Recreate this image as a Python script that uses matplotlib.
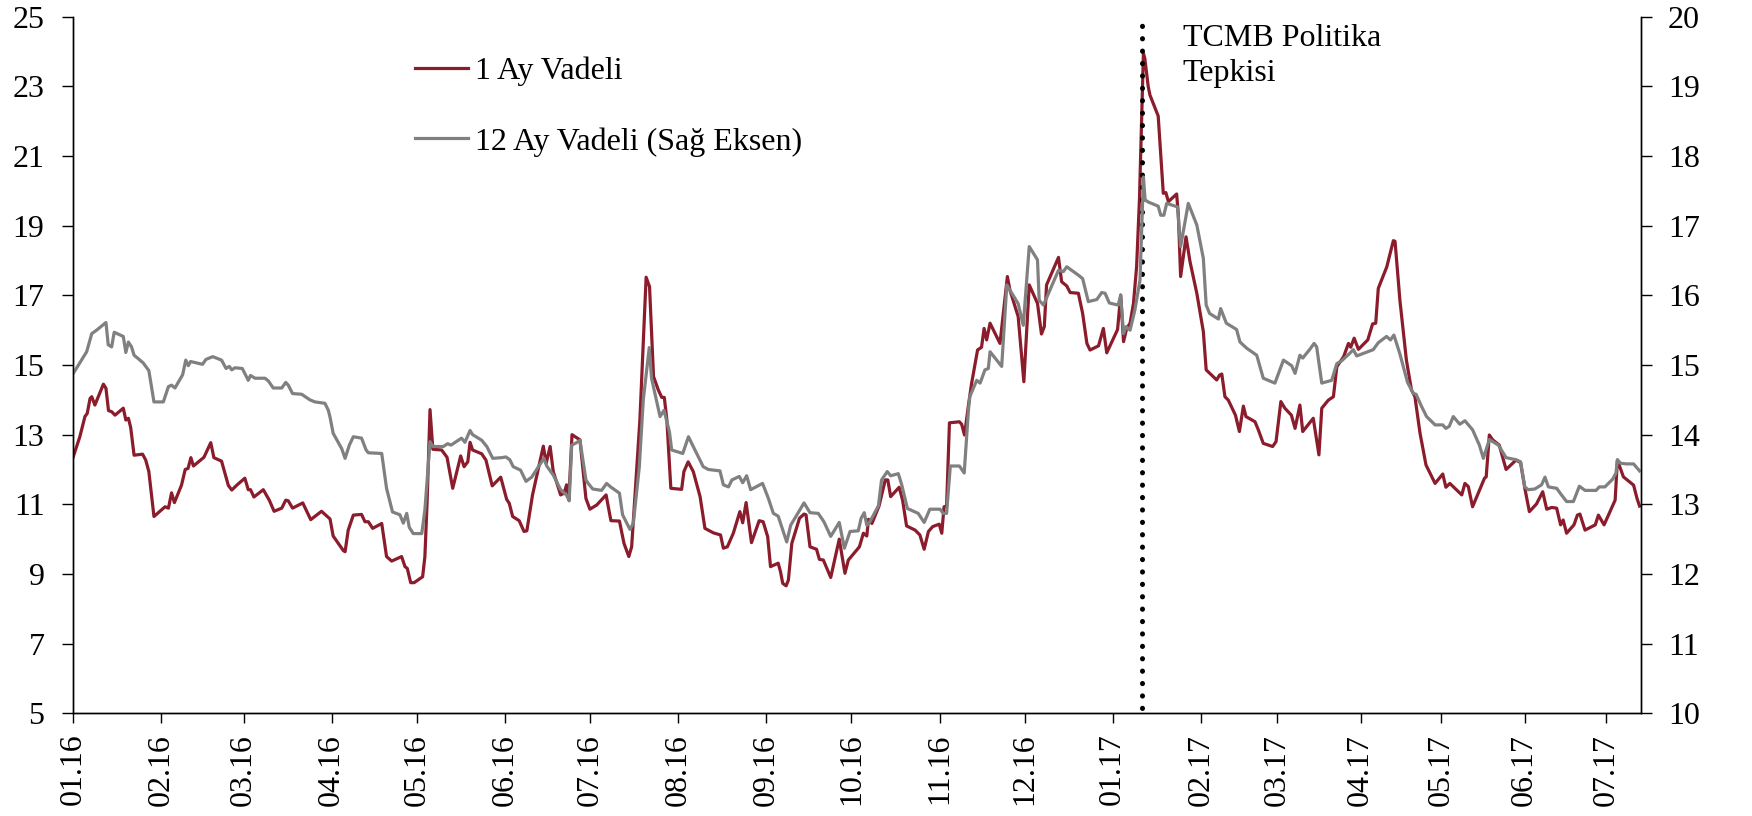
import matplotlib
matplotlib.use("Agg")
import matplotlib.pyplot as plt
import matplotlib.transforms as mtransforms

plt.rcParams['font.family'] = ['Liberation Serif', 'DejaVu Serif']

# ---- data (x = day index along the axis, starting 01.01.2016) ----
red_x = [0, 2.3, 4.1, 4.9, 5.9, 6.5, 7.6, 10.6, 11.5, 12.4, 13.5, 14.7, 17.6, 18.5, 19.4, 20.2, 21.4, 24.4, 25.5, 26.6,
         28.4, 32.3, 33.5, 34.6, 35.6, 38.1, 39.4, 40.4, 41.4, 42.3, 46.0, 48.4, 49.5, 52.2, 54.6, 55.8, 57.7, 60.4, 61.6, 62.4,
         63.6, 66.9, 69.0, 70.7, 73.4, 74.8, 75.7, 77.2, 80.8, 83.6, 87.4, 90.4, 91.5, 95.1, 95.7, 96.8, 98.6, 101.5, 102.7, 103.9,
         105.4, 108.6, 110.3, 112.1, 115.6, 116.8, 117.6, 118.8, 120.0, 123.0, 123.8, 124.6, 125.6, 126.6, 129.7, 131.6, 133.6, 136.4, 137.6, 138.9,
         139.7, 140.6, 143.8, 145.3, 147.5, 150.5, 152.6, 153.5, 154.7, 157.0, 158.7, 159.7, 161.7, 165.5, 166.5, 167.9, 169.0, 171.6, 172.8, 173.7,
         174.5, 175.6, 178.4, 180.5, 181.9, 184.3, 187.6, 189.3, 192.3, 193.9, 195.6, 196.6, 199.5, 201.7, 202.9, 204.3, 206.0, 207.2, 208.1, 209.0,
         210.4, 214.2, 215.0, 216.5, 218.3, 220.7, 222.4, 225.4, 227.9, 228.9, 230.3, 232.4, 234.7, 235.7, 236.9, 238.8, 241.5, 242.9, 244.5, 245.5,
         248.2, 249.0, 249.8, 251.0, 251.8, 253.0, 255.7, 257.3, 258.0, 259.4, 261.7, 262.7, 264.1, 266.7, 269.7, 271.7, 272.9, 276.8, 278.2, 279.4,
         280.0, 281.2, 283.7, 285.9, 286.8, 287.8, 290.8, 292.0, 293.4, 296.4, 298.1, 299.6, 301.1, 302.6, 304.9, 305.8, 306.6, 307.5, 308.5, 312.0,
         312.8, 313.8, 315.2, 316.3, 318.4, 319.8, 320.7, 321.6, 322.8, 326.3, 328.9, 329.8, 332.7, 334.7, 336.6, 339.5, 340.9, 341.9, 342.7, 346.9,
         348.0, 349.8, 351.0, 353.9, 355.4, 356.9, 358.0, 361.0, 362.7, 363.9, 367.7, 368.8, 369.8, 370.9, 372.1, 373.3, 374.4, 375.4, 376.2, 376.8,
         377.3, 378.5, 379.1, 382.0, 383.8, 384.7, 385.6, 388.5, 389.1, 389.9, 391.8, 393.2, 395.6, 397.9, 398.9, 402.6, 403.6, 404.4, 405.5, 406.7,
         409.2, 410.6, 412.0, 412.9, 416.1, 417.3, 419.0, 422.3, 423.5, 425.2, 426.6, 428.9, 430.2, 431.9, 432.9, 436.6, 438.6, 439.6, 441.9, 443.7,
         444.9, 447.3, 449.0, 449.8, 451.0, 452.5, 455.8, 457.5, 458.6, 459.5, 462.5, 464.8, 465.4, 467.1, 469.4, 471.2, 472.4, 474.2, 476.3, 479.5,
         482.2, 483.3, 484.7, 488.9, 490.0, 491.2, 492.7, 496.9, 497.5, 498.6, 499.8, 502.1, 504.5, 508.0, 509.6, 511.1, 512.7, 515.2, 517.4, 518.8,
         520.6, 522.3, 523.7, 524.6, 525.8, 528.4, 529.6, 530.5, 532.3, 535.9, 537.0, 539.0, 542.9, 543.7, 545.8, 549.4, 550.6, 551.5]
red_y = [12.37, 12.94, 13.52, 13.61, 14.04, 14.09, 13.85, 14.45, 14.33, 13.69, 13.66, 13.56, 13.76, 13.42, 13.47, 13.21, 12.41, 12.44, 12.27, 11.94,
         10.65, 10.93, 10.89, 11.33, 11.05, 11.55, 12.00, 12.03, 12.34, 12.10, 12.35, 12.77, 12.34, 12.24, 11.54, 11.41, 11.56, 11.75, 11.42, 11.42,
         11.21, 11.42, 11.12, 10.80, 10.89, 11.12, 11.10, 10.89, 11.04, 10.56, 10.80, 10.58, 10.09, 9.67, 9.64, 10.26, 10.69, 10.71, 10.50, 10.50,
         10.31, 10.45, 9.50, 9.37, 9.50, 9.21, 9.16, 8.75, 8.75, 8.92, 9.50, 11.12, 13.72, 12.58, 12.56, 12.35, 11.46, 12.39, 12.08, 12.22,
         12.78, 12.56, 12.45, 12.27, 11.53, 11.78, 11.14, 11.03, 10.65, 10.53, 10.22, 10.24, 11.27, 12.67, 12.18, 12.66, 11.94, 11.27, 11.32, 11.56,
         11.17, 13.00, 12.85, 11.17, 10.86, 10.98, 11.27, 10.53, 10.52, 9.88, 9.50, 9.78, 13.42, 17.52, 17.25, 14.67, 14.28, 14.07, 14.07, 13.42,
         11.46, 11.43, 11.94, 12.22, 11.94, 11.22, 10.31, 10.18, 10.12, 9.74, 9.78, 10.17, 10.79, 10.47, 11.05, 9.90, 10.53, 10.50, 10.07, 9.21,
         9.31, 9.07, 8.73, 8.66, 8.83, 9.88, 10.60, 10.72, 10.70, 9.78, 9.71, 9.42, 9.40, 8.90, 10.00, 9.02, 9.40, 9.78, 10.17, 10.09,
         10.57, 10.45, 10.95, 11.70, 11.70, 11.22, 11.49, 11.12, 10.38, 10.26, 10.12, 9.71, 10.22, 10.36, 10.43, 10.17, 10.93, 10.95, 13.34, 13.37,
         13.30, 12.99, 13.85, 14.47, 15.43, 15.51, 16.05, 15.72, 16.20, 15.62, 17.54, 17.15, 16.39, 14.52, 17.30, 16.77, 15.89, 16.10, 17.30, 18.09,
         17.39, 17.27, 17.08, 17.06, 16.48, 15.62, 15.43, 15.55, 16.05, 15.35, 16.02, 17.01, 15.67, 16.05, 16.20, 16.77, 17.82, 19.74, 22.13, 23.95,
         23.80, 22.99, 22.75, 22.15, 19.93, 19.95, 19.69, 19.91, 19.31, 17.54, 18.68, 17.97, 17.06, 15.96, 14.86, 14.57, 14.71, 14.74, 14.09, 13.99,
         13.56, 13.09, 13.82, 13.52, 13.37, 13.13, 12.75, 12.66, 12.80, 13.95, 13.76, 13.56, 13.18, 13.85, 13.09, 13.47, 12.42, 13.76, 13.99, 14.09,
         14.95, 15.24, 15.62, 15.51, 15.77, 15.45, 15.72, 16.18, 16.20, 17.20, 17.82, 18.57, 18.55, 16.87, 15.14, 14.28, 14.09, 13.04, 12.13, 11.60,
         11.87, 11.49, 11.60, 11.27, 11.60, 11.51, 10.93, 11.75, 11.79, 12.99, 12.85, 12.70, 12.00, 12.27, 12.20, 11.46, 10.79, 11.01, 11.36, 10.86,
         10.91, 10.89, 10.41, 10.55, 10.17, 10.41, 10.69, 10.72, 10.26, 10.41, 10.69, 10.41, 11.12, 12.27, 11.79, 11.55, 11.17, 10.95]

grey_x = [0, 4.7, 6.5, 8.2, 11.5, 12.3, 13.5, 14.4, 17.6, 18.5, 19.4, 20.5, 21.4, 22.9, 24.6, 26.6, 28.4, 31.7, 33.5, 34.6,
          35.8, 38.5, 39.6, 40.5, 41.3, 45.5, 46.7, 49.1, 52.2, 53.8, 54.9, 55.8, 56.9, 59.5, 61.6, 62.4, 64.0, 67.5, 68.7, 70.4,
          73.4, 74.8, 75.7, 77.2, 80.4, 83.3, 85.1, 88.6, 89.8, 90.4, 91.5, 94.5, 95.7, 97.2, 98.6, 101.5, 103.1, 103.9, 108.6, 110.3,
          112.4, 115.0, 116.2, 117.4, 118.3, 119.7, 122.7, 123.8, 125.6, 126.6, 130.3, 131.8, 133.0, 136.7, 137.9, 139.7, 140.6, 143.8, 145.6, 147.7,
          150.8, 152.3, 153.7, 154.9, 157.5, 159.4, 161.4, 165.7, 166.7, 169.0, 171.6, 173.7, 174.6, 175.5, 177.0, 178.4, 180.5, 181.3, 182.9, 186.0,
          187.8, 189.2, 192.3, 193.4, 196.0, 197.2, 199.3, 200.7, 202.8, 203.6, 206.6, 208.0, 209.9, 210.7, 214.6, 216.6, 218.3, 221.8, 223.6, 227.7,
          228.9, 230.7, 231.9, 234.5, 235.7, 237.1, 238.5, 242.7, 244.7, 246.5, 248.2, 251.2, 252.6, 257.3, 259.4, 262.3, 264.3, 266.7, 269.7, 271.5,
          273.5, 276.4, 277.4, 278.5, 279.4, 280.5, 283.5, 284.6, 286.6, 287.8, 290.5, 291.7, 293.7, 297.5, 299.6, 301.6, 305.2, 306.3, 307.5, 308.8,
          312.0, 313.7, 315.2, 315.7, 318.1, 319.3, 321.0, 322.2, 322.8, 326.9, 328.7, 332.7, 334.5, 336.6, 339.5, 340.1, 341.6, 346.9, 348.6, 349.8,
          353.9, 355.4, 357.4, 360.4, 362.1, 363.3, 364.8, 367.9, 368.8, 369.8, 370.7, 372.1, 373.8, 375.6, 376.8, 377.4, 378.5, 382.0, 382.9, 384.0,
          385.0, 388.8, 389.9, 392.6, 395.6, 397.9, 398.9, 400.1, 403.2, 404.0, 406.0, 409.6, 410.8, 413.2, 416.7, 419.0, 423.1, 426.1, 429.0, 430.2,
          431.9, 432.9, 435.3, 436.9, 437.8, 439.6, 443.1, 444.9, 446.6, 449.5, 450.7, 451.9, 457.7, 459.5, 462.4, 463.8, 465.0, 467.1, 469.8, 471.9,
          472.8, 474.8, 476.5, 479.5, 482.2, 483.3, 484.5, 485.9, 488.2, 490.0, 492.7, 495.1, 496.5, 498.6, 501.8, 504.5, 508.0, 509.6, 511.1, 512.3,
          514.6, 517.0, 518.2, 519.4, 522.3, 524.1, 525.8, 528.2, 530.3, 532.3, 536.2, 537.3, 539.3, 542.0, 543.2, 543.7, 544.8, 546.9, 549.4, 551.5]
grey_y = [14.88, 15.19, 15.45, 15.50, 15.61, 15.29, 15.26, 15.47, 15.41, 15.18, 15.33, 15.26, 15.14, 15.09, 15.03, 14.92, 14.47, 14.47, 14.69, 14.71,
          14.67, 14.86, 15.07, 14.99, 15.05, 15.01, 15.08, 15.12, 15.07, 14.95, 14.98, 14.93, 14.96, 14.95, 14.78, 14.85, 14.81, 14.81, 14.77, 14.67,
          14.67, 14.75, 14.71, 14.59, 14.58, 14.50, 14.47, 14.45, 14.35, 14.25, 14.02, 13.80, 13.66, 13.85, 13.97, 13.95, 13.78, 13.74, 13.73, 13.23,
          12.89, 12.85, 12.73, 12.87, 12.67, 12.58, 12.58, 12.92, 13.90, 13.83, 13.83, 13.87, 13.85, 13.95, 13.89, 14.06, 14.00, 13.92, 13.83, 13.66,
          13.67, 13.68, 13.64, 13.54, 13.49, 13.33, 13.39, 13.66, 13.55, 13.42, 13.21, 13.13, 13.05, 13.85, 13.88, 13.92, 13.35, 13.30, 13.22, 13.20,
          13.30, 13.25, 13.16, 12.85, 12.64, 12.73, 13.54, 14.50, 15.25, 14.81, 14.26, 14.35, 14.04, 13.78, 13.73, 13.97, 13.83, 13.54, 13.50, 13.48,
          13.28, 13.25, 13.35, 13.40, 13.31, 13.41, 13.21, 13.30, 13.09, 12.87, 12.83, 12.46, 12.70, 13.02, 12.88, 12.87, 12.75, 12.54, 12.74, 12.37,
          12.61, 12.62, 12.80, 12.88, 12.70, 12.75, 12.98, 13.35, 13.47, 13.41, 13.44, 13.28, 12.94, 12.87, 12.74, 12.93, 12.93, 12.87, 12.87, 13.55,
          13.55, 13.45, 14.36, 14.55, 14.78, 14.74, 14.93, 14.95, 15.19, 14.98, 16.15, 15.88, 15.57, 16.70, 16.51, 15.93, 15.86, 16.36, 16.34, 16.41,
          16.29, 16.24, 15.91, 15.94, 16.04, 16.03, 15.89, 15.86, 16.00, 15.45, 15.55, 15.50, 15.79, 16.22, 17.70, 17.37, 17.34, 17.28, 17.15, 17.15,
          17.32, 17.27, 16.70, 17.32, 17.01, 16.53, 15.86, 15.74, 15.66, 15.81, 15.60, 15.51, 15.33, 15.24, 15.14, 14.81, 14.74, 15.07, 14.99, 14.88,
          15.14, 15.10, 15.22, 15.31, 15.26, 14.74, 14.78, 15.02, 15.06, 15.17, 15.22, 15.13, 15.22, 15.32, 15.41, 15.36, 15.43, 15.16, 14.75, 14.59,
          14.58, 14.40, 14.26, 14.14, 14.14, 14.09, 14.12, 14.26, 14.15, 14.20, 14.07, 13.85, 13.66, 13.93, 13.85, 13.67, 13.64, 13.61, 13.25, 13.21,
          13.22, 13.28, 13.39, 13.25, 13.23, 13.13, 13.04, 13.04, 13.26, 13.20, 13.20, 13.25, 13.25, 13.36, 13.45, 13.64, 13.59, 13.58, 13.58, 13.48]

month_labels = ['01.16', '02.16', '03.16', '04.16', '05.16', '06.16', '07.16', '08.16', '09.16', '10.16',
                '11.16', '12.16', '01.17', '02.17', '03.17', '04.17', '05.17', '06.17', '07.17']
month_pos = [0, 31, 60, 91, 121, 152, 182, 213, 244, 274, 305, 335, 366, 397, 423.9, 453.3, 481.6, 511, 539.6]
x_end = 551.9
event_x = 376.3
event_label = "TCMB Politika\nTepkisi"
label_1m = "1 Ay Vadeli"
label_12m = "12 Ay Vadeli (Sağ Eksen)"

RED = '#8B1C2C'
GREY = '#808080'
FS = 23

fig = plt.figure(figsize=(17.52, 8.16), dpi=100)
ax = fig.add_axes([73.3 / 1752, 1 - 713.3 / 816, (1640.7 - 73.3) / 1752, (713.3 - 16.7) / 816])
ax2 = ax.twinx()

l1, = ax.plot(red_x, red_y, color=RED, lw=2.3, solid_joinstyle='round')
l2, = ax2.plot(grey_x, grey_y, color=GREY, lw=2.3, solid_joinstyle='round')

ax.axvline(event_x, ymin=0.008, ymax=0.993, color='black', lw=3.6, linestyle=(0, (0.05, 2.43)),
           dash_capstyle='round', zorder=5)

ax.set_xlim(0, x_end)
ax.set_ylim(5, 25)
ax2.set_ylim(10, 20)
ax.set_yticks(list(range(5, 26, 2)))
ax2.set_yticks(list(range(10, 21)))
ax.set_xticks(month_pos)
ax.set_xticklabels(month_labels, rotation=90)

for a in (ax, ax2):
    a.spines['top'].set_visible(False)
    for s in a.spines.values():
        s.set_linewidth(1.0)
        s.set_color('black')

ax.tick_params(axis='y', direction='out', length=7.7, width=1, labelsize=FS, pad=13)
ax.tick_params(axis='x', direction='out', length=7.2, width=1, labelsize=FS, pad=7.5)
ax2.tick_params(axis='y', direction='out', length=7.7, width=1, labelsize=FS, pad=12)

trans = mtransforms.blended_transform_factory(ax.transData, ax.transAxes)
ax.text(390.6, 0.990, event_label, transform=trans, ha='left', va='top', fontsize=FS, linespacing=1.28)

ax2.legend([l1, l2], [label_1m, label_12m], loc='upper left',
           bbox_to_anchor=(415 / 1752, 1 - 56.7 / 816), bbox_transform=fig.transFigure,
           frameon=False, fontsize=FS, handlelength=1.66, handletextpad=0.22,
           labelspacing=1.28, borderpad=0, borderaxespad=0)

fig.savefig('out.png', dpi=100)
